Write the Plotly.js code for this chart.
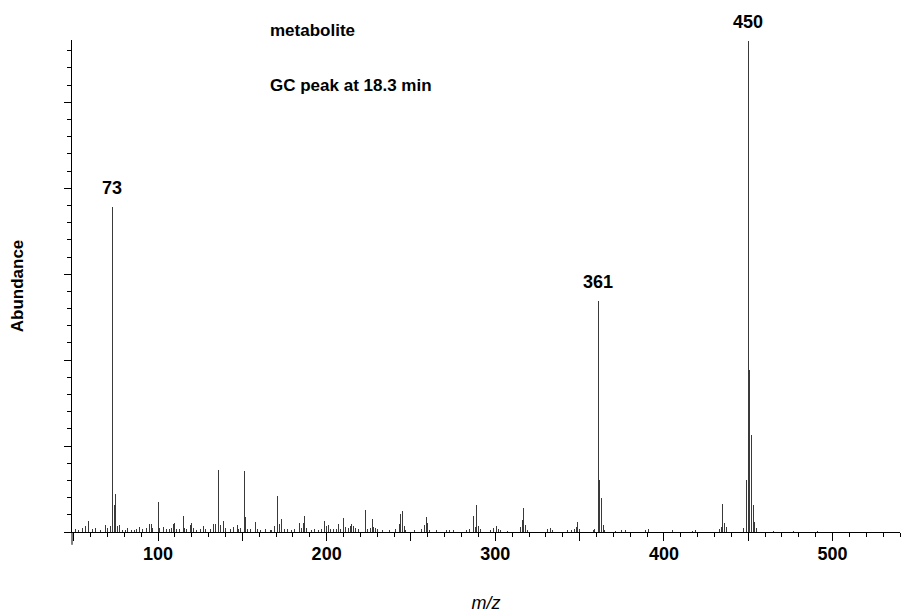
<!DOCTYPE html>
<html>
<head>
<meta charset="utf-8">
<script src="https://cdn.plot.ly/plotly-3.0.1.min.js"></script>
<style>html,body{margin:0;padding:0;background:#fff;}#chart{width:907px;height:614px;}</style>
</head>
<body>
<div id="chart"></div>
<script>
// m/z values and relative abundance (%)
const mz = [51,53,55,57,59,61,63,66,69,70,72,73,74,75,76,77,79,81,82,84,86,87,89,91,93,95,96,97,
  100,101,103,105,107,108,109,110,111,113,115,116,117,119,120,121,123,125,127,128,131,133,134,136,137,139,140,
  143,145,147,148,149,151,152,153,155,158,159,161,164,167,169,171,172,173,175,177,179,181,184,185,186,187,188,
  191,193,195,197,199,200,201,202,204,206,207,208,210,211,213,214,215,216,217,219,223,224,226,227,228,229,230,
  233,237,241,243,244,245,246,247,252,256,258,259,260,261,265,271,273,275,283,285,287,288,289,290,291,297,299,
  301,302,303,307,315,316,317,318,319,331,333,334,343,345,347,348,349,350,358,359,361,362,363,364,365,371,375,
  377,389,391,405,417,419,433,434,435,436,437,447,449,450,451,452,453,454,455,465,477,491];
const abundance = [0.6,0.5,0.8,1.2,2.2,0.6,0.8,0.5,1.5,0.8,1.2,66.2,5.4,7.8,1.2,1.5,0.5,0.5,0.8,0.5,0.5,0.6,1.1,0.6,0.8,1.7,1.6,0.9,
  6.1,0.9,1.0,0.6,0.7,0.9,1.6,1.8,0.7,0.6,3.2,0.9,0.6,1.5,1.8,0.8,0.5,0.6,1.3,0.7,0.6,1.7,1.7,12.6,1.5,2.3,0.8,
  0.6,1.0,1.5,0.7,0.8,12.4,3.0,0.7,0.6,2.1,0.6,0.5,0.6,0.5,1.2,7.4,1.7,2.6,0.6,0.6,0.5,0.7,1.8,0.8,1.9,3.2,0.9,
  0.5,0.6,0.5,0.6,2.2,1.2,1.5,0.7,0.6,0.7,1.7,0.7,2.9,1.0,0.8,1.2,1.7,1.3,0.8,0.6,4.5,0.7,0.8,2.7,1.0,0.8,0.6,
  0.5,0.5,0.6,1.6,3.7,4.2,1.3,0.5,0.4,0.6,1.4,3.0,1.8,0.5,0.4,0.4,0.5,0.4,0.5,0.6,3.2,1.0,5.6,1.2,0.6,0.4,0.8,
  1.2,0.6,0.5,0.3,1.0,2.4,4.9,1.5,0.5,0.6,0.9,0.4,0.4,0.5,0.6,1.0,2.0,0.6,0.5,0.7,47.0,10.6,6.9,1.4,0.5,0.3,0.4,
  0.4,0.5,0.6,0.4,0.3,0.5,0.6,1.0,5.7,1.9,1.0,0.8,10.5,100,33.0,19.8,5.5,2.0,0.8,0.3,0.2,0.3];

// labelled peaks
const labelMz = [73, 361, 450];
const labelText = ["73", "361", "450"];

// x-axis tick labels
const xTickVals = [50,100,150,200,250,300,350,400,450,500];
const xTickText = ["","100","","200","","300","","400","","500"];

const textLines = ["metabolite", "GC peak at 18.3 min"];

const labelAbund = labelMz.map(m => abundance[mz.indexOf(m)]);

const FONT = "Liberation Sans, Arial, sans-serif";

const trace = {
  type: "bar",
  x: mz,
  y: abundance,
  width: 0.6,
  marker: {color: "#3a3a3a", line: {width: 0}},
  hoverinfo: "x+y"
};

const annotations = labelMz.map((m, i) => ({
  x: m, y: labelAbund[i], xref: "x", yref: "y",
  text: labelText[i], showarrow: false,
  xanchor: "center", yanchor: "bottom", yshift: 7,
  font: {family: FONT, size: 18, color: "#000", weight: "bold"}
}));

annotations.push({
  x: 0.2367, y: 1.0203, xref: "paper", yref: "paper", text: textLines[0],
  showarrow: false, xanchor: "left", yanchor: "middle",
  font: {family: FONT, size: 17, color: "#000", weight: "bold"}
});
annotations.push({
  x: 0.2367, y: 0.9085, xref: "paper", yref: "paper", text: textLines[1],
  showarrow: false, xanchor: "left", yanchor: "middle",
  font: {family: FONT, size: 17, color: "#000", weight: "bold"}
});

const layout = {
  width: 907, height: 614,
  margin: {l: 72, r: 7, t: 40, b: 82},
  paper_bgcolor: "#fff", plot_bgcolor: "#fff",
  showlegend: false,
  bargap: 0,
  xaxis: {
    range: [49, 540],
    showgrid: false, zeroline: false,
    showline: true, linecolor: "#000", linewidth: 1,
    ticks: "outside", ticklen: 8, tickcolor: "#000", tickwidth: 1,
    tickmode: "array", tickvals: xTickVals, ticktext: xTickText,
    tickfont: {family: FONT, size: 18, color: "#000", weight: "bold"},
    ticklabelstandoff: -3,
    minor: {tickmode: "linear", tick0: 0, dtick: 10, ticks: "outside", ticklen: 4, tickcolor: "#000", showgrid: false},
    title: {text: "<i>m/z</i>", font: {family: FONT, size: 18, color: "#000"}, standoff: 33},
    automargin: false
  },
  yaxis: {
    range: [0, 100.2],
    showgrid: false, zeroline: false,
    showline: true, linecolor: "#000", linewidth: 1,
    ticks: "outside", ticklen: 7, tickcolor: "#000",
    tickmode: "linear", tick0: 0, dtick: 17.5,
    showticklabels: false,
    minor: {tickmode: "linear", tick0: 0, dtick: 3.5, ticks: "outside", ticklen: 4, tickcolor: "#000", showgrid: false},
    title: {text: "Abundance", font: {family: FONT, size: 17, color: "#000", weight: "bold"}, standoff: 36},
    automargin: false
  },
  shapes: [{
    type: "line", xref: "paper", yref: "paper",
    x0: 0, x1: 0, y0: 0, y1: -0.026,
    line: {color: "#000", width: 1}
  }],
  annotations: annotations
};

Plotly.newPlot("chart", [trace], layout, {displayModeBar: false, staticPlot: true});
</script>
</body>
</html>
